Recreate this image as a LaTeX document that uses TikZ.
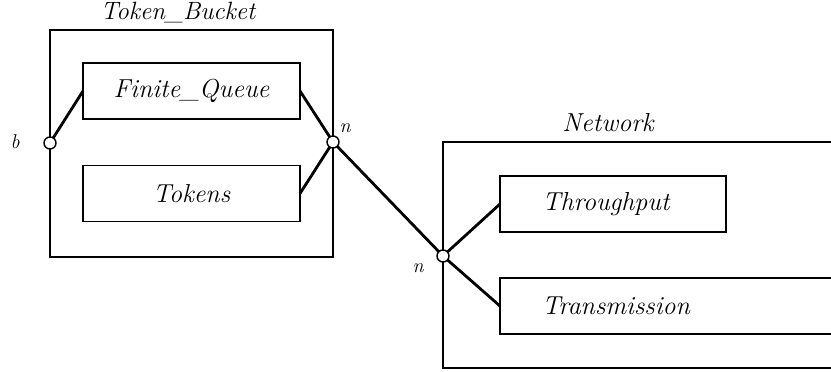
\documentclass[tikz,border=0pt]{standalone}
\usepackage{fontspec}
\usepackage{tikz}
\tikzset{
  every node/.style={font=\fontsize{26}{30}\selectfont\itshape, inner sep=0pt, outer sep=0pt},
  box/.style={draw, line width=1.7pt, rectangle, minimum height=56pt},
  outer/.style={draw, line width=1.4pt, rectangle},
  port/.style={draw, line width=1.4pt, circle, fill=white, minimum size=12pt},
  conn/.style={line width=2.8pt},
  lbl/.style={font=\fontsize{20}{24}\selectfont\itshape},
  title/.style={font=\fontsize{25}{29}\selectfont\itshape}
}
\begin{document}
\begin{tikzpicture}[x=1pt,y=-1pt]
\useasboundingbox (0,0) rectangle (831,372);
\clip (0,0) rectangle (831,372);
% Token_Bucket
\node[outer, minimum width=283pt, minimum height=227pt] (tb) at (191.5,143.5) {};
\node[title] (tbl) at (178,13) {Token\textunderscore Bucket};
\node[box, minimum width=217pt] (fq) at (191.5,91) {Finite\textunderscore Queue};
\node[box, minimum width=217pt] (tk) at (191.5,193.5) {Tokens};
% Network
\node[outer, minimum width=460pt, minimum height=226pt, anchor=north west] (nw) at (443,142) {};
\node[title, font=\fontsize{26}{30}\selectfont\itshape] (nwl) at (608,123) {Network};
\node[box, minimum width=226pt] (tp) at (613,204) {};
\node (tpt) at (606,204) {Throughput};
\node[box, minimum width=420pt, anchor=west] (tr) at (500,306) {};
\node (trt) at (616,306) {Transmission};
% ports
\coordinate (pb) at (50,143);
\coordinate (pn1) at (333,142);
\coordinate (pn2) at (443,256);
\draw[conn] (pb) -- (fq.west);
\draw[conn] (fq.east) -- (pn1);
\draw[conn] (tk.east) -- (pn1);
\draw[conn] (pn1) -- (pn2);
\draw[conn] (pn2) -- (tp.west);
\draw[conn] (pn2) -- (tr.west);
\node[port] (b) at (pb) {};
\node[port] (n1) at (pn1) {};
\node[port] (n2) at (pn2) {};
\node[lbl] (bl) at (15,142) {b};
\node[lbl] (n1l) at (345,128) {n};
\node[lbl] (n2l) at (418,268) {n};
\end{tikzpicture}
\end{document}
